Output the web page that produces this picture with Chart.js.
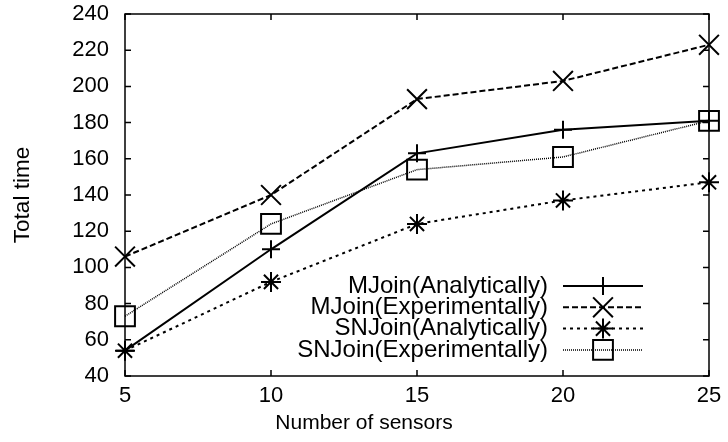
<!DOCTYPE html>
<html>
<head>
<meta charset="utf-8">
<script src="https://cdn.jsdelivr.net/npm/chart.js@4.4.1/dist/chart.umd.min.js"></script>
<style>
  html, body { margin: 0; padding: 0; background: #fff; }
</style>
</head>
<body>
<canvas id="c" width="728" height="442"></canvas>
<script>
// values
const sensors = [5, 10, 15, 20, 25];
const mjoinAnalytic = [54, 110, 163, 176, 181];
const mjoinExperiment = [106, 140, 193, 203, 223];
const snjoinAnalytic = [54, 92, 124, 137, 147];
const snjoinExperiment = [73, 124, 154, 161, 181];
const xTicks = [5, 10, 15, 20, 25];
const yTicks = [40, 60, 80, 100, 120, 140, 160, 180, 200, 220, 240];

const FONT = '"Liberation Sans", Arial, Helvetica, sans-serif';

const pts = arr => arr.map((v, i) => ({ x: sensors[i], y: v }));

const datasets = [
  { label: 'MJoin(Analytically)', data: pts(mjoinAnalytic), borderWidth: 2, borderDash: [],
    pointStyle: 'cross', pointRadius: 9 },
  { label: 'MJoin(Experimentally)', data: pts(mjoinExperiment), borderWidth: 2, borderDash: [6, 3],
    pointStyle: 'crossRot', pointRadius: 14 },
  { label: 'SNJoin(Analytically)', data: pts(snjoinAnalytic), borderWidth: 2, borderDash: [3, 4],
    pointStyle: 'star', pointRadius: 10 },
  { label: 'SNJoin(Experimentally)', data: pts(snjoinExperiment), borderWidth: 1.5, borderDash: [1, 1],
    pointStyle: 'rect', pointRadius: 14 }
].map(d => Object.assign({
  borderColor: '#000', pointBorderColor: '#000', pointBackgroundColor: 'rgba(0,0,0,0)',
  pointBorderWidth: 2, pointHoverRadius: d.pointRadius, tension: 0, fill: false, clip: false
}, d));

// box around the plot with inward tick marks on all sides
const framePlugin = {
  id: 'frame',
  beforeDatasetsDraw(chart) {
    const { ctx, chartArea: a, scales: { x, y } } = chart;
    ctx.save();
    ctx.strokeStyle = '#000';
    ctx.lineWidth = 1.5;
    ctx.strokeRect(a.left, a.top, a.right - a.left, a.bottom - a.top);
    ctx.beginPath();
    x.ticks.forEach(t => {
      const px = x.getPixelForValue(t.value);
      ctx.moveTo(px, a.bottom); ctx.lineTo(px, a.bottom - 6);
      ctx.moveTo(px, a.top); ctx.lineTo(px, a.top + 6);
    });
    y.ticks.forEach(t => {
      const py = y.getPixelForValue(t.value);
      ctx.moveTo(a.left, py); ctx.lineTo(a.left + 6, py);
      ctx.moveTo(a.right, py); ctx.lineTo(a.right - 6, py);
    });
    ctx.stroke();
    ctx.restore();
  }
};

// gnuplot style key: right aligned text, sample line with marker
const keyPlugin = {
  id: 'key',
  afterDatasetsDraw(chart) {
    const ctx = chart.ctx;
    ctx.save();
    ctx.font = '24px ' + FONT;
    ctx.textAlign = 'right';
    ctx.textBaseline = 'middle';
    chart.data.datasets.forEach((ds, i) => {
      const y = 286 + i * 21.3;
      ctx.fillStyle = '#000';
      ctx.fillText(ds.label, 548, y);
      ctx.strokeStyle = '#000';
      ctx.lineWidth = ds.borderWidth;
      ctx.setLineDash(ds.borderDash);
      ctx.beginPath(); ctx.moveTo(563, y); ctx.lineTo(643, y); ctx.stroke();
      ctx.setLineDash([]);
      ctx.lineWidth = ds.pointBorderWidth;
      ctx.fillStyle = 'rgba(0,0,0,0)';
      Chart.helpers.drawPoint(ctx, { pointStyle: ds.pointStyle, radius: ds.pointRadius,
        borderWidth: ds.pointBorderWidth, rotation: 0 }, 603, y);
    });
    ctx.restore();
  }
};

new Chart(document.getElementById('c'), {
  type: 'line',
  data: { datasets },
  plugins: [framePlugin, keyPlugin],
  options: {
    responsive: false,
    animation: false,
    layout: { autoPadding: false, padding: { top: 14, right: 0, left: 0, bottom: 0 } },
    plugins: {
      legend: { display: false },
      tooltip: { enabled: false },
      // x axis caption is centred on the whole picture, as in the reference
      title: { display: true, position: 'bottom', text: 'Number of sensors', color: '#000',
        padding: { top: 0, bottom: 6 }, font: { family: FONT, size: 21, weight: 'normal' } }
    },
    scales: {
      x: {
        type: 'linear', min: 5, max: 25,
        afterBuildTicks: s => { s.ticks = xTicks.map(v => ({ value: v })); },
        afterFit: s => { s.height = 34.8; },
        // tick length only spaces the labels; the marks themselves are drawn by the frame plugin
        grid: { display: false, drawTicks: true, tickLength: 7 },
        border: { display: false },
        ticks: { color: '#000', padding: 0, font: { family: FONT, size: 22 } }
      },
      y: {
        type: 'linear', min: 40, max: 240,
        afterBuildTicks: s => { s.ticks = yTicks.map(v => ({ value: v })); },
        afterFit: s => { s.width = 125; },
        grid: { display: false, drawTicks: true, tickLength: 16 },
        border: { display: false },
        ticks: { color: '#000', padding: 0, font: { family: FONT, size: 22 } },
        title: { display: true, text: 'Total time', color: '#000',
          padding: { top: 9, bottom: 0 }, font: { family: FONT, size: 22.5 } }
      },
      // empty right margin, so the caption stays centred on the full width
      yRight: {
        type: 'linear', position: 'right', min: 40, max: 240,
        afterFit: s => { s.width = 19; },
        grid: { display: false, drawTicks: false },
        border: { display: false },
        ticks: { display: false }
      }
    }
  }
});
</script>
</body>
</html>
